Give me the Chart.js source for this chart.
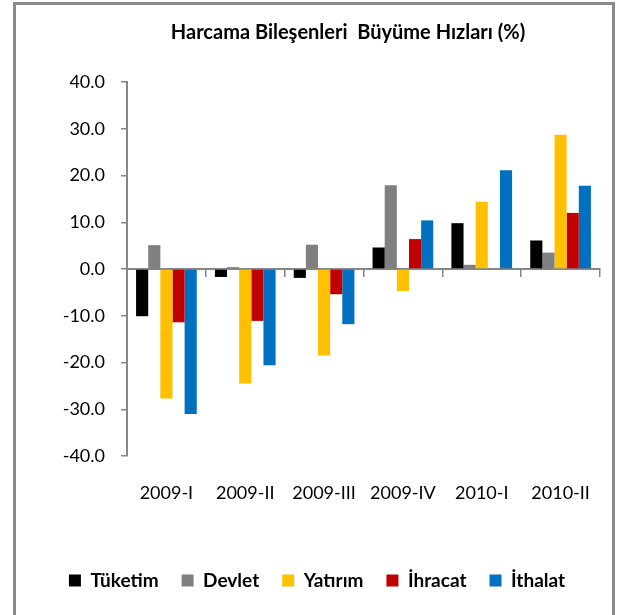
<!DOCTYPE html>
<html>
<head>
<meta charset="utf-8">
<script src="https://cdn.jsdelivr.net/npm/chart.js@4"></script>
<style>
  html, body { margin: 0; padding: 0; background: #fff; }
  #frame {
    position: absolute; left: 13px; top: 2px; width: 596px; height: 620px;
    border: 3px solid #8a8a8a; border-bottom: none; pointer-events: none;
  }
  #growthChart { position: absolute; left: 0; top: 0; }
</style>
</head>
<body>
<div id="frame"></div>
<canvas id="growthChart" width="622" height="615"></canvas>
<script>
// Quarters
const periods = ["2009-I", "2009-II", "2009-III", "2009-IV", "2010-I", "2010-II"];

// Growth rates (%)
const tuketim = [-10.1, -1.7, -1.9, 4.6, 9.8, 6.1];
const devlet = [5.1, 0.4, 5.2, 17.9, 0.9, 3.5];
const yatirim = [-27.7, -24.5, -18.5, -4.7, 14.4, 28.7];
const ihracat = [-11.4, -11.1, -5.4, 6.4, 0.0, 12.0];
const ithalat = [-31.0, -20.6, -11.8, 10.4, 21.1, 17.8];

const axisGray = "#868686";
const fontName = "Lato";

// nudge title and legend sideways, like in the original sheet
const shiftBlocks = {
  id: "shiftBlocks",
  afterLayout: function (chart) {
    chart.titleBlock.left += 48;
    chart.titleBlock.right += 48;
    chart.legend.left += 17;
    chart.legend.right += 17;
  }
};

const ctx = document.getElementById("growthChart").getContext("2d");
const growthChart = new Chart(ctx, {
  type: "bar",
  data: {
    labels: periods,
    datasets: [
      { label: "Tüketim", data: tuketim, backgroundColor: "#000000" },
      { label: "Devlet", data: devlet, backgroundColor: "#808080" },
      { label: "Yatırım", data: yatirim, backgroundColor: "#FFC000" },
      { label: "İhracat", data: ihracat, backgroundColor: "#C00000" },
      { label: "İthalat", data: ithalat, backgroundColor: "#0070C0" }
    ]
  },
  plugins: [shiftBlocks],
  options: {
    responsive: false,
    animation: false,
    categoryPercentage: 0.77,
    barPercentage: 1.0,
    layout: { padding: { left: 0, right: 22, top: 0, bottom: 15 } },
    plugins: {
      title: {
        display: true,
        text: "Harcama Bileşenleri  Büyüme Hızları (%)",
        color: "#000",
        font: { family: fontName, size: 20, weight: "bold" },
        padding: { top: 21, bottom: 37 }
      },
      legend: {
        position: "bottom",
        labels: {
          color: "#000",
          font: { family: fontName, size: 19, weight: "bold" },
          boxWidth: 12,
          boxHeight: 12,
          padding: 23
        }
      },
      tooltip: { enabled: false }
    },
    scales: {
      // axis line along zero, tick marks at category boundaries
      x: {
        position: { y: 0 },
        offset: true,
        grid: { offset: true, drawOnChartArea: false, tickLength: 7, color: axisGray, lineWidth: 1.5 },
        border: { color: axisGray, width: 2 },
        ticks: { display: false }
      },
      // labels at the bottom
      x2: {
        type: "category",
        position: "bottom",
        offset: true,
        grid: { display: false, drawTicks: false },
        border: { display: false },
        ticks: { color: "#000", font: { family: fontName, size: 18 }, padding: 26, maxRotation: 0 },
        afterFit: function (scale) { scale.height = 92; }
      },
      y: {
        min: -40,
        max: 40,
        ticks: {
          stepSize: 10,
          color: "#000",
          font: { family: fontName, size: 18 },
          padding: 16,
          callback: function (v) { return v.toFixed(1); }
        },
        grid: { drawOnChartArea: false, tickLength: 6, color: axisGray, lineWidth: 1.5 },
        border: { color: axisGray, width: 2 },
        afterFit: function (scale) { scale.width = 127; }
      }
    }
  }
});
</script>
</body>
</html>
